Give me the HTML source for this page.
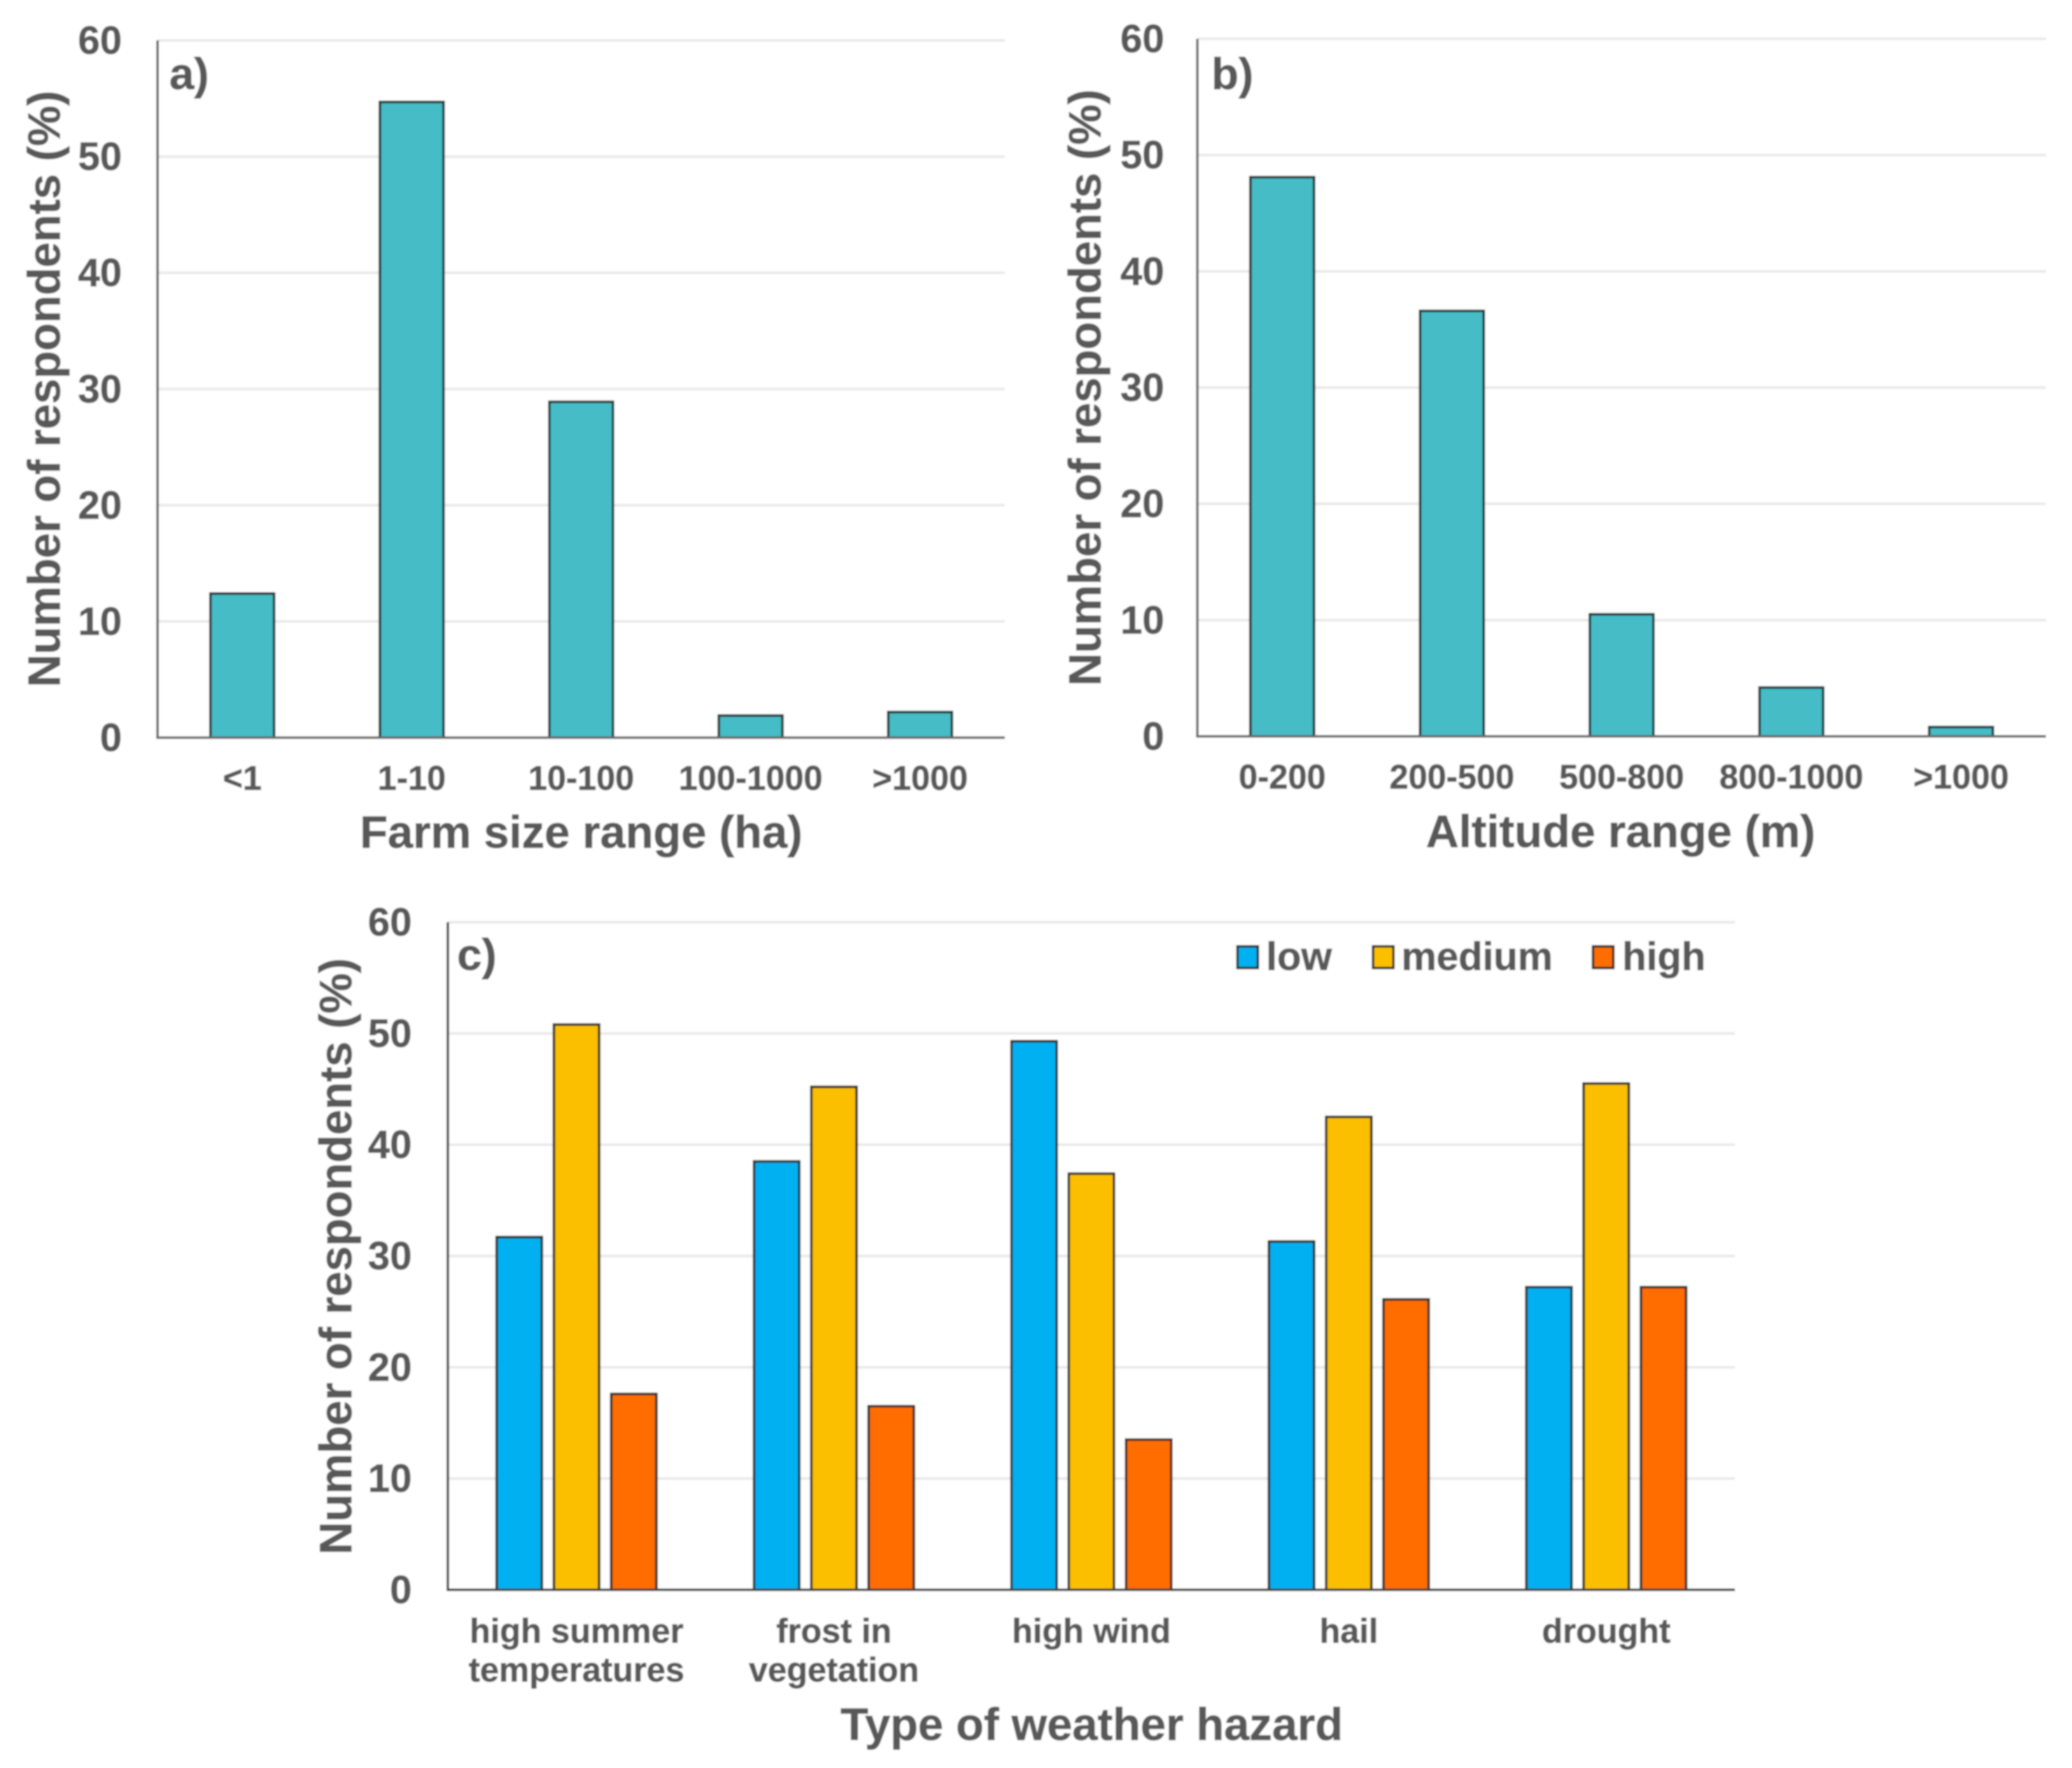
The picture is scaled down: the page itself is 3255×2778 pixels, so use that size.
<!DOCTYPE html>
<html lang="en">
<head>
<meta charset="utf-8">
<title>Survey respondents by farm size, altitude and weather hazard</title>
<style>
html,body{margin:0;padding:0;background:#fff;width:3255px;height:2778px;overflow:hidden}
svg{display:block}
text{font-family:"Liberation Sans",Arial,sans-serif;font-weight:bold;fill:#595959;stroke:#595959;stroke-width:0.8px}
</style>
</head>
<body>
<svg id="figure" width="3255" height="2778" viewBox="0 0 3255 2778" xmlns="http://www.w3.org/2000/svg">
<defs><filter id="soft" x="0" y="0" width="100%" height="100%"><feGaussianBlur stdDeviation="1.3"/></filter></defs>
<g id="root" filter="url(#soft)">
<rect x="0" y="0" width="3255" height="2778" fill="#fff"/>
<text x="913" y="1332" font-size="71.5" text-anchor="middle">Farm size range (ha)</text>
<text x="2546" y="1331" font-size="71.5" text-anchor="middle">Altitude range (m)</text>
<text x="1715" y="2734" font-size="71.5" text-anchor="middle">Type of weather hazard</text>
<text transform="translate(94 611) rotate(-90)" font-size="71.5" text-anchor="middle">Number of respondents (%)</text>
<text transform="translate(1729 609) rotate(-90)" font-size="71.5" text-anchor="middle">Number of respondents (%)</text>
<text transform="translate(552 1974) rotate(-90)" font-size="71.5" text-anchor="middle">Number of respondents (%)</text>
</g>
</svg>
<script>
const yTicks = [0, 10, 20, 30, 40, 50, 60];
const farmCategories = ["<1", "1-10", "10-100", "100-1000", ">1000"];
const farmValues = [12.4, 54.7, 28.9, 1.9, 2.2];
const altitudeCategories = ["0-200", "200-500", "500-800", "800-1000", ">1000"];
const altitudeValues = [48.1, 36.6, 10.5, 4.2, 0.8];
const hazardCategories = [["high summer", "temperatures"], ["frost in", "vegetation"], ["high wind"], ["hail"], ["drought"]];
const seriesNames = ["low", "medium", "high"];
const lowValues = [31.7, 38.5, 49.3, 31.3, 27.2];
const mediumValues = [50.8, 45.2, 37.4, 42.5, 45.5];
const highValues = [17.6, 16.5, 13.5, 26.1, 27.2];

const NS = "http://www.w3.org/2000/svg";
const root = document.getElementById("root");

function make(tag, attrs, label) {
  const node = document.createElementNS(NS, tag);
  for (const k in attrs) node.setAttribute(k, attrs[k]);
  if (label !== undefined) node.textContent = label;
  root.appendChild(node);
  return node;
}

function drawFrame(panel, plot) {
  const y = v => plot.y0 + (plot.y60 - plot.y0) * v / 60;
  yTicks.forEach(t => {
    if (t > 0) {
      const grid = make("line", {x1: plot.left, x2: plot.right, y1: y(t), y2: y(t), stroke: "#e9e9e9", "stroke-width": 4});
      
      
    }
    const tick = make("text", {x: plot.tickX, y: y(t) + 21, "font-size": 62, "text-anchor": "end"}, String(t));
    
    
  });
  return y;
}

function drawAxes(panel, plot, color) {
  const yAxis = make("line", {x1: plot.left, x2: plot.left, y1: plot.y60, y2: plot.y0, stroke: color, "stroke-width": 4});
  
  
  const xAxis = make("line", {x1: plot.left - 2, x2: plot.right, y1: plot.y0, y2: plot.y0, stroke: color, "stroke-width": 4});
  
  
}

function drawSinglePanel(panel, plot, categories, values) {
  const y = drawFrame(panel, plot);
  const band = (plot.right - plot.left) / categories.length;
  const barWidth = 100;
  categories.forEach((c, i) => {
    const cx = plot.left + band * (i + 0.5);
    const bar = make("rect", {x: cx - barWidth / 2, y: y(values[i]), width: barWidth, height: plot.y0 - y(values[i]), fill: "#45bcc6", stroke: "#24302f", "stroke-width": 4});
    
    
    const label = make("text", {x: cx, y: plot.y0 + 82, "font-size": 53.5, "text-anchor": "middle"}, c);
    
    
  });
  drawAxes(panel, plot, "#666666");
}

function drawGroupedPanel(panel, plot, categories, seriesList, colors) {
  const y = drawFrame(panel, plot);
  const band = (plot.right - plot.left) / categories.length;
  const barWidth = 71;
  const step = 90;
  categories.forEach((lines, i) => {
    const cx = plot.left + band * (i + 0.5);
    seriesList.forEach((series, s) => {
      const bx = cx + (s - 1) * step - barWidth / 2;
      const bar = make("rect", {x: bx, y: y(series[i]), width: barWidth, height: plot.y0 - y(series[i]), fill: colors[s], stroke: "#262626", "stroke-width": 4});
      
      
    });
    lines.forEach((line, l) => {
      const label = make("text", {x: cx, y: plot.y0 + 83 + l * 61, "font-size": 53.5, "text-anchor": "middle"}, line);
      
      
    });
  });
  drawAxes(panel, plot, "#3f3f3f");
}

function panelLabel(name, text, x, y) {
  const node = make("text", {x: x, y: y, "font-size": 70}, text);
  
  
}

function legendEntry(name, color, boxX, textX) {
  const box = make("rect", {x: boxX, y: 1487, width: 32, height: 34, fill: color, stroke: "#262626", "stroke-width": 4});
  
  
  const label = make("text", {x: textX, y: 1524, "font-size": 62}, name);
  
  
}

const seriesColors = ["#00b0f0", "#fbbf03", "#ff6d00"];

drawSinglePanel("panel-a", {left: 247.5, right: 1578.5, y0: 1159, y60: 63.5, tickX: 191.5}, farmCategories, farmValues);
drawSinglePanel("panel-b", {left: 1881, right: 3214, y0: 1157, y60: 61, tickX: 1829}, altitudeCategories, altitudeValues);
drawGroupedPanel("panel-c", {left: 703.5, right: 2725.5, y0: 2498, y60: 1449, tickX: 647}, hazardCategories, [lowValues, mediumValues, highValues], seriesColors);

panelLabel("panel-a-label", "a)", 266, 140);
panelLabel("panel-b-label", "b)", 1903, 140);
panelLabel("panel-c-label", "c)", 718, 1524);

legendEntry(seriesNames[0], seriesColors[0], 1944, 1989);
legendEntry(seriesNames[1], seriesColors[1], 2157, 2201.5);
legendEntry(seriesNames[2], seriesColors[2], 2502.5, 2548.5);
</script>
</body>
</html>
